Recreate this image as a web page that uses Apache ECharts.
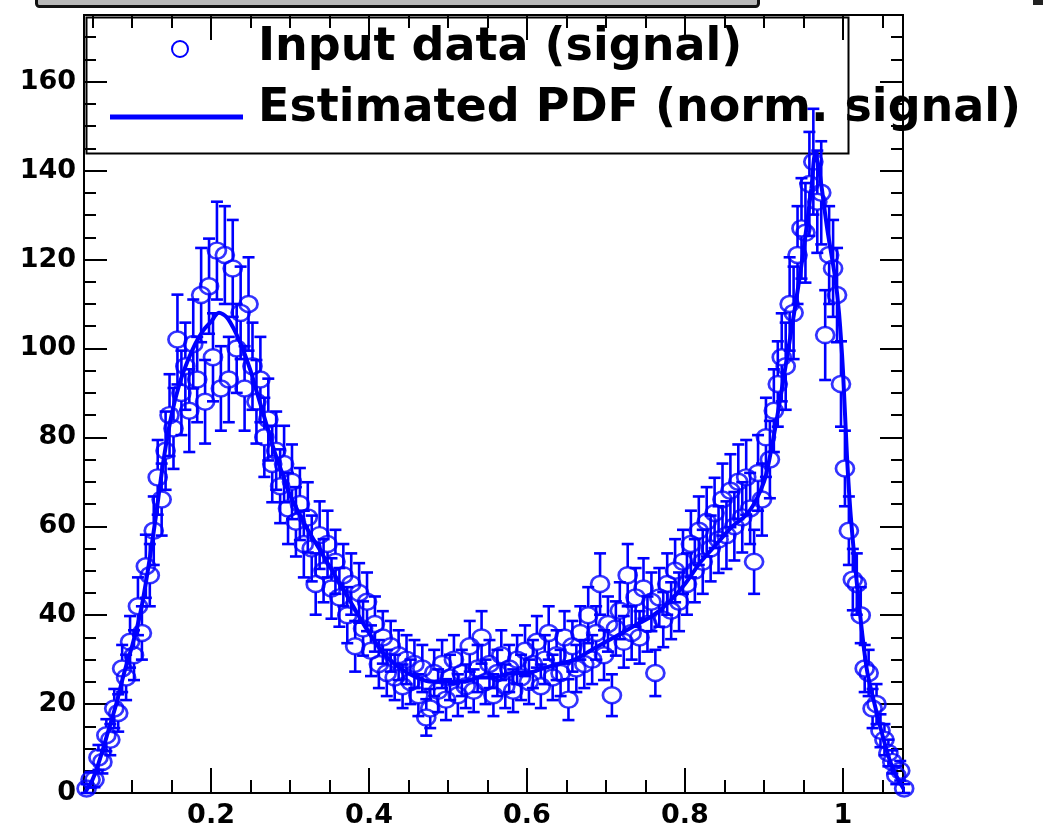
<!DOCTYPE html>
<html>
<head>
<meta charset="utf-8">
<title>Input data vs estimated PDF</title>
<script src="https://cdn.jsdelivr.net/npm/echarts@6.0.0/dist/echarts.min.js"></script>
<style>
  html, body { margin: 0; padding: 0; background: #fff; }
  #main { width: 1043px; height: 832px; }
</style>
</head>
<body>
<div id="main"></div>
<script>
// histogram binning of the input data
const binLow = 0.04;
const binWidth = 0.005;

// bin contents (signal)
const counts = [
  1, 3, 3, 8, 7, 13, 12, 19, 18, 28,
  26, 34, 31, 42, 36, 51, 49, 59, 71, 66,
  77, 85, 82, 102, 90, 96, 86, 101, 93, 112,
  88, 114, 98, 122, 91, 121, 93, 118, 100, 108,
  91, 110, 96, 88, 93, 80, 84, 74, 77, 69,
  74, 64, 70, 61, 65, 56, 62, 55, 47, 58,
  50, 56, 46, 52, 44, 49, 40, 47, 33, 45,
  37, 43, 32, 38, 29, 35, 27, 33, 26, 31,
  24, 30, 25, 29, 22, 28, 17, 19, 27, 23,
  29, 21, 26, 30, 22, 27, 24, 33, 23, 28,
  35, 25, 29, 22, 27, 31, 24, 28, 23, 30,
  26, 32, 25, 29, 34, 24, 30, 36, 26, 31,
  27, 35, 21, 33, 28, 36, 29, 40, 30, 36,
  47, 31, 38, 22, 37, 41, 34, 49, 36, 44,
  35, 46, 38, 43, 27, 44, 39, 47, 41, 50,
  43, 52, 47, 56, 50, 59, 52, 61, 55, 63,
  57, 66, 58, 68, 60, 70, 62, 71, 64, 52,
  72, 66, 80, 75, 86, 92, 98, 96, 110, 108,
  121, 127, 126, 137, 142, 133, 135, 103, 121, 118,
  112, 92, 73, 59, 48, 47, 40, 28, 27, 19,
  20, 14, 12, 9, 7, 4, 5, 1
];

// error of each bin
const errors = [
  1, 1.7, 1.7, 2.8, 2.6, 3.6, 3.5, 4.4, 4.2, 5.3,
  5.1, 5.8, 5.6, 6.5, 6, 7.1, 7, 7.7, 8.4, 8.1,
  8.8, 9.2, 9.1, 10.1, 9.5, 9.8, 9.3, 10, 9.6, 10.6,
  9.4, 10.7, 9.9, 11, 9.5, 11, 9.6, 10.9, 10, 10.4,
  9.5, 10.5, 9.8, 9.4, 9.6, 8.9, 9.2, 8.6, 8.8, 8.3,
  8.6, 8, 8.4, 7.8, 8.1, 7.5, 7.9, 7.4, 6.9, 7.6,
  7.1, 7.5, 6.8, 7.2, 6.6, 7, 6.3, 6.9, 5.7, 6.7,
  6.1, 6.6, 5.7, 6.2, 5.4, 5.9, 5.2, 5.7, 5.1, 5.6,
  4.9, 5.5, 5, 5.4, 4.7, 5.3, 4.1, 4.4, 5.2, 4.8,
  5.4, 4.6, 5.1, 5.5, 4.7, 5.2, 4.9, 5.7, 4.8, 5.3,
  5.9, 5, 5.4, 4.7, 5.2, 5.6, 4.9, 5.3, 4.8, 5.5,
  5.1, 5.7, 5, 5.4, 5.8, 4.9, 5.5, 6, 5.1, 5.6,
  5.2, 5.9, 4.6, 5.7, 5.3, 6, 5.4, 6.3, 5.5, 6,
  6.9, 5.6, 6.2, 4.7, 6.1, 6.4, 5.8, 7, 6, 6.6,
  5.9, 6.8, 6.2, 6.6, 5.2, 6.6, 6.2, 6.9, 6.4, 7.1,
  6.6, 7.2, 6.9, 7.5, 7.1, 7.7, 7.2, 7.8, 7.4, 7.9,
  7.5, 8.1, 7.6, 8.2, 7.7, 8.4, 7.9, 8.4, 8, 7.2,
  8.5, 8.1, 8.9, 8.7, 9.3, 9.6, 9.9, 9.8, 10.5, 10.4,
  11, 11.3, 11.2, 11.7, 11.9, 11.5, 11.6, 10.1, 11, 10.9,
  10.6, 9.6, 8.5, 7.7, 6.9, 6.9, 6.3, 5.3, 5.2, 4.4,
  4.5, 3.7, 3.5, 3, 2.6, 2, 2.2, 1
];

// estimated PDF (normalised to signal)
const pdfX = [
  0.04, 0.05, 0.06, 0.07, 0.08, 0.09, 0.10, 0.11, 0.12, 0.13,
  0.14, 0.15, 0.16, 0.17, 0.18, 0.19, 0.20, 0.21, 0.22, 0.23,
  0.24, 0.25, 0.26, 0.27, 0.28, 0.29, 0.30,
  0.32, 0.34, 0.36, 0.38, 0.40, 0.42, 0.44, 0.46, 0.48, 0.50,
  0.52, 0.54, 0.56, 0.58, 0.60, 0.62, 0.64, 0.66, 0.68, 0.70,
  0.72, 0.74, 0.76, 0.78, 0.80, 0.82, 0.84, 0.86, 0.88, 0.90,
  0.91, 0.92, 0.93, 0.94, 0.95, 0.96,
  0.965, 0.97, 0.98, 0.99, 0.995, 1.00, 1.005, 1.01,
  1.02, 1.03, 1.04, 1.05, 1.06, 1.07, 1.08
];
const pdfY = [
  0, 3, 8, 14, 20, 27, 33, 40, 50, 62,
  75, 85, 92, 97, 101, 104, 106, 108, 107, 104,
  100, 95, 89, 83, 77, 72, 67,
  60, 54, 48, 42, 36, 31, 28, 26, 25, 25,
  25, 26, 26, 27, 27, 28, 29, 30, 32, 34,
  36, 38, 40, 43, 47, 52, 56, 60, 63, 70,
  78, 88, 99, 110, 122, 136,
  144, 140, 127, 116, 108, 95, 76, 62,
  43, 28, 20, 13, 7, 3, 0
];

// axis ticks
const xMajorTicks = [0.2, 0.4, 0.6, 0.8, 1];
const xMinorTicks = [0.05, 0.1, 0.15, 0.25, 0.3, 0.35, 0.45, 0.5, 0.55, 0.65, 0.7, 0.75, 0.85, 0.9, 0.95, 1.05];
const yMajorTicks = [0, 20, 40, 60, 80, 100, 120, 140, 160];
const yMinorTicks = [5, 10, 15, 25, 30, 35, 45, 50, 55, 65, 70, 75, 85, 90, 95, 105, 110, 115, 125, 130, 135, 145, 150, 155, 165, 170, 175];

const X_MIN = 0.0392, X_MAX = 1.076;
const Y_MIN = 0, Y_MAX = 175;
const BLUE = '#0000ff';
const FONT = 'DejaVu Sans';

let points = counts.map((c, i) => [binLow + binWidth * (i + 0.5), c, errors[i]]);
let pdfLine = pdfX.map((x, i) => [x, pdfY[i]]);

function xAxisOf(pos, ticks, len, withLabel) {
    return {
        type: 'value', position: pos, min: X_MIN, max: X_MAX,
        axisLine: { show: true, onZero: false, lineStyle: { color: '#000', width: 2 } },
        axisTick: { show: true, inside: true, length: len, customValues: ticks,
            lineStyle: { color: '#000', width: 2 } },
        axisLabel: { show: withLabel, customValues: ticks, margin: 9,
            color: '#000', fontFamily: FONT, fontWeight: 'bold', fontSize: 27,
            formatter: v => String(v) },
        splitLine: { show: false }
    };
}
function yAxisOf(pos, ticks, len, withLabel) {
    return {
        type: 'value', position: pos, min: Y_MIN, max: Y_MAX,
        axisLine: { show: true, onZero: false, lineStyle: { color: '#000', width: 2 } },
        axisTick: { show: true, inside: true, length: len, customValues: ticks,
            lineStyle: { color: '#000', width: 2 } },
        axisLabel: { show: withLabel, customValues: ticks, margin: 8,
            color: '#000', fontFamily: FONT, fontWeight: 'bold', fontSize: 27 },
        splitLine: { show: false }
    };
}

let myChart = echarts.init(document.getElementById('main'), null, { renderer: 'canvas' });
myChart.setOption({
    animation: false,
    backgroundColor: '#fff',
    grid: { left: 84, right: 140, top: 15, bottom: 39, containLabel: false },
    xAxis: [
        xAxisOf('bottom', xMajorTicks, 25, true),
        xAxisOf('bottom', xMinorTicks, 13, false),
        xAxisOf('top', xMajorTicks, 25, false),
        xAxisOf('top', xMinorTicks, 13, false)
    ],
    yAxis: [
        yAxisOf('left', yMajorTicks, 23, true),
        yAxisOf('left', yMinorTicks, 12, false),
        yAxisOf('right', yMajorTicks, 23, false),
        yAxisOf('right', yMinorTicks, 12, false)
    ],
    series: [
        {
            // error bars, with a gap where the marker sits
            name: 'errors',
            type: 'custom',
            xAxisIndex: 0, yAxisIndex: 0,
            clip: false,
            renderItem: function (params, api) {
                let x = api.value(0), y = api.value(1), e = api.value(2);
                let c = api.coord([x, y]);
                let hi = api.coord([x, y + e]);
                let lo = api.coord([x, Math.max(y - e, 0)]);
                let gap = 8, cap = 6;
                let style = { stroke: BLUE, lineWidth: 2.6 };
                let kids = [];
                if (c[1] - gap > hi[1]) {
                    kids.push({ type: 'line', shape: { x1: c[0], y1: c[1] - gap, x2: c[0], y2: hi[1] }, style: style });
                }
                if (lo[1] > c[1] + gap) {
                    kids.push({ type: 'line', shape: { x1: c[0], y1: c[1] + gap, x2: c[0], y2: lo[1] }, style: style });
                }
                kids.push({ type: 'line', shape: { x1: c[0] - cap, y1: hi[1], x2: c[0] + cap, y2: hi[1] }, style: style });
                kids.push({ type: 'line', shape: { x1: c[0] - cap, y1: lo[1], x2: c[0] + cap, y2: lo[1] }, style: style });
                return { type: 'group', children: kids };
            },
            encode: { x: 0, y: 1 },
            data: points,
            z: 2
        },
        {
            name: 'Input data (signal)',
            type: 'scatter',
            xAxisIndex: 0, yAxisIndex: 0,
            symbol: 'circle',
            symbolSize: [18, 16],
            clip: false,
            itemStyle: { color: 'transparent', borderColor: BLUE, borderWidth: 2.6 },
            data: points.map(p => [p[0], p[1]]),
            z: 3
        },
        {
            name: 'Estimated PDF (norm. signal)',
            type: 'line',
            xAxisIndex: 0, yAxisIndex: 0,
            smooth: 0.3,
            showSymbol: false,
            lineStyle: { color: BLUE, width: 4 },
            data: pdfLine,
            z: 4
        }
    ],
    graphic: [
        // title box, cut off at the top of the picture
        { type: 'rect', left: 35, top: -24, shape: { width: 722, height: 29, r: 3 },
          style: { fill: '#b8b8b8', stroke: '#111', lineWidth: 3 }, z: 10 },
        { type: 'rect', left: 1033, top: -4, shape: { width: 12, height: 9 },
          style: { fill: '#222' }, z: 10 },
        // legend box
        { type: 'rect', left: 84, top: 15, shape: { width: 762, height: 136 },
          style: { fill: 'none', stroke: '#000', lineWidth: 2 }, z: 1 },
        { type: 'circle', shape: { cx: 180, cy: 49, r: 8 },
          style: { fill: 'none', stroke: BLUE, lineWidth: 2 }, z: 10 },
        { type: 'line', shape: { x1: 110, y1: 117, x2: 243, y2: 117 },
          style: { stroke: BLUE, lineWidth: 5 }, z: 10 },
        { type: 'text', left: 258, top: 25,
          style: { text: 'Input data (signal)', fill: '#000', font: 'bold 46px "DejaVu Sans"' }, z: 10 },
        { type: 'text', left: 258, top: 86,
          style: { text: 'Estimated PDF (norm. signal)', fill: '#000', font: 'bold 46px "DejaVu Sans"' }, z: 10 }
    ]
});
</script>
</body>
</html>
